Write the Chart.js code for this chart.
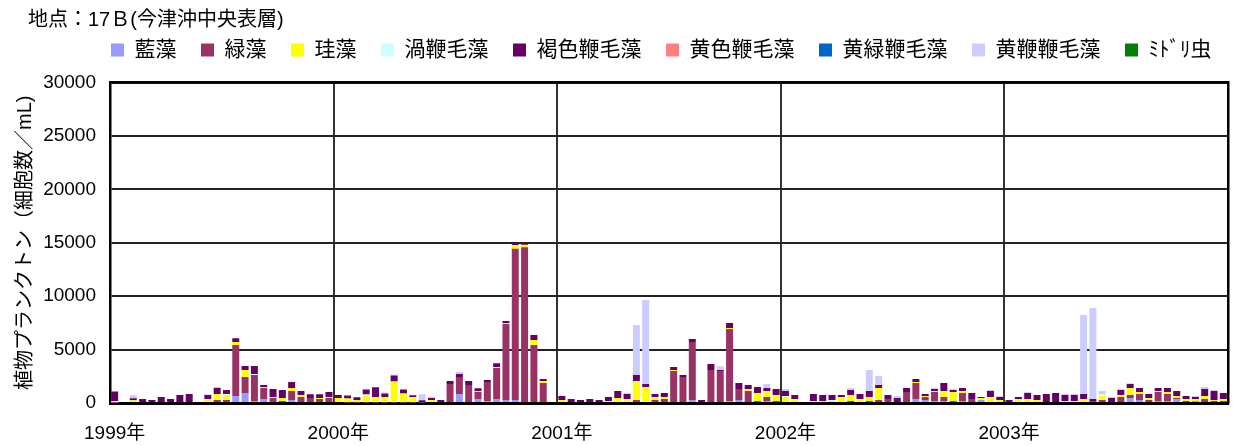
<!DOCTYPE html>
<html>
<head>
<meta charset="utf-8">
<script src="https://cdn.jsdelivr.net/npm/chart.js@4.4.1/dist/chart.umd.min.js"></script>
<style>
  html, body { margin: 0; padding: 0; background: #fff; }
  #wrap { width: 1236px; height: 446px; position: relative; }
</style>
</head>
<body>
<div id="wrap"><canvas id="c"></canvas></div>
<script>
// 今津沖中央表層（地点17B）植物プランクトン細胞数、半月ごとの調査
const years = ['1999年', '2000年', '2001年', '2002年', '2003年'];
const slotsPerYear = 24;
const yTickStep = 5000;
const yMax = 30000;
const N = null; // 欠測

// 藍藻
const ranso = [
  0, N, 0, 0, 0, 0, 0, 0, 0, N, 0, 0, 0, 650, 940, 190, 370, 90, 90, 280, 90, 90, 0, 0,
  0, 0, 0, 0, 0, 0, 0, 0, 0, 0, 0, 0, 90, 840, 90, 370, 190, 370, 280, 280, 90, 90, 0, N,
  0, 0, 0, 0, 0, 0, 0, 0, 0, 0, 0, 0, 0, 90, 280, 0, 0, 90, 190, 280, 90, 90, 190, 0,
  0, 0, N, 0, 0, 0, 0, 0, 0, 0, 0, 0, 0, 90, 370, 280, 190, 190, 90, 190, 90, 280, 0, 0,
  0, 0, 0, 0, 0, 0, 0, 0, 0, 0, 0, 0, 0, 470, 280, 90, 190, 190, 370, 0, 190, 0, 0, 0
];
// 緑藻
const ryokuso = [
  30, N, 0, 0, 0, 0, 0, 0, 0, N, 90, 280, 280, 4770, 1500, 2430, 1030, 370, 90, 840, 470, 370, 370, 470,
  90, 60, 60, 60, 60, 60, 60, 60, 60, 0, 90, 90, 1680, 1590, 1590, 650, 1780, 2900, 7110, 14150, 14500, 5340, 1870, N,
  90, 90, 0, 0, 0, 0, 0, 0, 280, 90, 280, 370, 3000, 2340, 5430, 0, 3090, 2900, 6740, 1030, 1030, 90, 370, 190,
  90, 90, N, 0, 90, 0, 0, 190, 0, 190, 280, 370, 90, 940, 1500, 280, 840, 370, 90, 750, 280, 0, 90, 0,
  0, 0, 90, 0, 0, 0, 0, 0, 90, 190, 280, 0, 560, 280, 560, 190, 840, 650, 90, 190, 0, 370, 190, 190
];
// 珪藻
const keiso = [
  150, N, 250, 0, 0, 0, 0, 0, 0, N, 280, 560, 470, 280, 650, 0, 90, 90, 280, 280, 190, 0, 90, 90,
  370, 370, 190, 650, 470, 470, 1960, 840, 470, 0, 190, 0, 0, 0, 0, 90, 0, 0, 90, 370, 190, 470, 190, N,
  190, 0, 0, 0, 90, 190, 470, 370, 1780, 1400, 280, 190, 90, 0, 0, 90, 0, 0, 90, 0, 190, 750, 560, 560,
  470, 280, N, 190, 90, 190, 560, 560, 370, 370, 1120, 0, 0, 0, 90, 90, 90, 560, 840, 190, 0, 190, 470, 280,
  90, 370, 280, 280, 90, 0, 190, 190, 280, 0, 370, 90, 190, 650, 190, 190, 90, 190, 190, 190, 190, 280, 90, 190
];
// 渦鞭毛藻
const uzuben = [
  0, N, 0, 0, 0, 0, 0, 0, 0, N, 0, 0, 90, 0, 0, 90, 0, 0, 0, 0, 0, 0, 0, 0,
  0, 0, 0, 90, 0, 0, 0, 0, 0, 60, 0, 0, 0, 0, 0, 0, 0, 90, 0, 0, 0, 0, 0, N,
  0, 0, 0, 0, 0, 0, 0, 0, 0, 0, 0, 0, 0, 0, 0, 0, 0, 0, 0, 0, 0, 0, 0, 0,
  90, 0, N, 0, 0, 90, 0, 0, 0, 0, 0, 0, 0, 0, 0, 0, 0, 0, 0, 0, 0, 0, 0, 0,
  0, 0, 0, 0, 0, 0, 0, 0, 0, 0, 190, 0, 0, 0, 0, 0, 0, 0, 0, 0, 0, 0, 0, 0
];
// 褐色鞭毛藻
const kasshoku = [
  900, N, 190, 370, 280, 560, 370, 750, 840, N, 370, 560, 370, 370, 370, 750, 190, 750, 750, 560, 370, 370, 370, 470,
  280, 280, 280, 470, 940, 370, 560, 370, 190, 190, 190, 190, 280, 280, 370, 280, 190, 370, 190, 190, 90, 470, 190, N,
  370, 280, 280, 370, 190, 370, 650, 470, 560, 280, 280, 370, 280, 190, 280, 190, 560, 90, 470, 560, 370, 560, 280, 560,
  470, 370, N, 650, 560, 470, 190, 470, 470, 560, 280, 370, 370, 370, 280, 190, 190, 750, 190, 280, 560, 90, 560, 280,
  190, 190, 560, 470, 750, 940, 560, 560, 470, 190, 0, 370, 470, 370, 370, 370, 280, 370, 470, 280, 190, 650, 840, 560
];
// 黄色鞭毛藻
const oshoku = [
  0, N, 0, 0, 0, 0, 0, 0, 0, N, 0, 0, 0, 0, 0, 0, 0, 0, 0, 0, 0, 0, 0, 0,
  0, 0, 0, 0, 0, 0, 0, 0, 0, 0, 0, 0, 0, 0, 0, 0, 0, 0, 0, 0, 0, 0, 0, N,
  0, 0, 0, 0, 0, 0, 0, 0, 0, 0, 0, 0, 0, 0, 0, 0, 0, 0, 0, 0, 0, 0, 0, 0,
  0, 0, N, 0, 0, 0, 0, 0, 0, 0, 0, 0, 0, 0, 0, 0, 0, 0, 0, 0, 0, 0, 0, 0,
  0, 0, 0, 0, 0, 0, 0, 0, 0, 0, 0, 0, 0, 0, 0, 0, 0, 0, 0, 0, 0, 0, 0, 0
];
// 黄緑鞭毛藻
const oryoku = [
  0, N, 0, 0, 0, 0, 0, 0, 0, N, 0, 0, 0, 0, 0, 0, 0, 0, 0, 0, 0, 0, 0, 0,
  0, 0, 0, 0, 0, 0, 0, 0, 0, 0, 0, 0, 0, 0, 0, 0, 0, 0, 0, 0, 0, 0, 0, N,
  0, 0, 0, 0, 0, 0, 0, 0, 0, 0, 0, 0, 0, 0, 0, 0, 0, 0, 0, 0, 0, 0, 0, 0,
  0, 0, N, 0, 0, 0, 0, 0, 0, 0, 0, 0, 0, 0, 0, 0, 0, 0, 0, 0, 0, 0, 0, 0,
  0, 0, 0, 0, 0, 0, 0, 0, 0, 0, 0, 0, 0, 0, 0, 0, 0, 0, 0, 0, 0, 0, 0, 0
];
// 黄鞭鞭毛藻
const obenben = [
  0, N, 280, 0, 0, 0, 0, 0, 0, N, 90, 90, 0, 0, 0, 0, 0, 0, 0, 0, 0, 0, 0, 0,
  0, 0, 0, 0, 0, 90, 90, 0, 0, 560, 90, 0, 0, 190, 0, 0, 0, 0, 0, 0, 0, 0, 0, N,
  0, 0, 0, 0, 0, 0, 0, 90, 4680, 7860, 0, 0, 0, 0, 0, 0, 0, 370, 0, 0, 0, 0, 370, 0,
  190, 0, N, 0, 0, 0, 0, 190, 0, 1970, 840, 0, 190, 0, 0, 0, 90, 0, 90, 0, 0, 0, 90, 90,
  0, 0, 90, 0, 0, 0, 90, 90, 7400, 8520, 280, 90, 90, 90, 0, 0, 0, 0, 0, 0, 90, 190, 90, 0
];
// ミドリ虫
const midorimushi = [
  0, N, 0, 0, 0, 0, 0, 0, 0, N, 0, 0, 0, 0, 0, 0, 0, 0, 0, 0, 0, 0, 0, 0,
  0, 0, 0, 0, 0, 0, 0, 0, 0, 0, 0, 0, 0, 0, 0, 0, 0, 0, 0, 0, 0, 0, 0, N,
  0, 0, 0, 0, 0, 0, 0, 0, 0, 0, 0, 0, 0, 0, 0, 0, 0, 0, 0, 0, 0, 0, 0, 0,
  0, 0, N, 0, 0, 0, 0, 0, 0, 0, 0, 0, 0, 0, 0, 0, 0, 0, 0, 0, 0, 0, 0, 0,
  0, 0, 0, 0, 0, 0, 0, 0, 0, 0, 0, 0, 0, 0, 0, 0, 0, 0, 0, 0, 0, 0, 0, 0
];

// 月の前半・後半で1年24区分のカテゴリ
const categories = [];
years.forEach(y => {
  for (let m = 1; m <= 12; m++) {
    categories.push(y + m + '月前半');
    categories.push(y + m + '月後半');
  }
});

const seriesNames = ['藍藻', '緑藻', '珪藻', '渦鞭毛藻', '褐色鞭毛藻', '黄色鞭毛藻', '黄緑鞭毛藻', '黄鞭鞭毛藻', 'ﾐﾄﾞﾘ虫'];
const seriesValues = [ranso, ryokuso, keiso, uzuben, kasshoku, oshoku, oryoku, obenben, midorimushi];
const seriesColors = ['#9999FF', '#993366', '#FFFF00', '#CCFFFF', '#660066', '#FF8080', '#0066CC', '#CCCCFF', '#008000'];

const FONT = "'Liberation Sans', 'Noto Sans CJK JP', sans-serif";

new Chart(document.getElementById('c'), {
  type: 'bar',
  data: {
    labels: categories,
    datasets: seriesNames.map((name, i) => ({
      label: name,
      data: seriesValues[i],
      backgroundColor: seriesColors[i],
      borderWidth: 0,
      categoryPercentage: 1.0,
      barPercentage: 0.75
    }))
  },
  options: {
    responsive: true,
    maintainAspectRatio: false,
    animation: false,
    events: [],
    layout: { padding: { left: 28, right: 0, top: 0, bottom: 0 } },
    plugins: {
      title: {
        display: true,
        text: '地点：17Ｂ(今津沖中央表層)',
        align: 'start',
        color: '#000',
        font: { family: FONT, size: 20, weight: 'normal' },
        padding: { top: 8, bottom: -17 }
      },
      legend: {
        display: true,
        position: 'top',
        align: 'end',
        labels: {
          color: '#000',
          font: { family: FONT, size: 21 },
          boxWidth: 13,
          boxHeight: 13,
          padding: 24.5
        }
      },
      tooltip: { enabled: false }
    },
    scales: {
      x: {
        type: 'category',
        stacked: true,
        z: 1,
        afterFit: s => { s.height = 43; },
        grid: {
          offset: true,
          drawTicks: false,
          lineWidth: 2,
          color: ctx => (ctx.index % slotsPerYear === 0 && ctx.index > 0) ? '#333' : 'rgba(0,0,0,0)'
        },
        border: { display: true, color: '#000', width: 3 },
        ticks: {
          autoSkip: false,
          maxRotation: 0,
          minRotation: 0,
          padding: 12,
          color: '#000',
          font: { family: FONT, size: 19, lineHeight: 2 },
          callback: (v, i) => (i % slotsPerYear === 0) ? years[i / slotsPerYear] : ''
        }
      },
      xTop: {
        type: 'category',
        position: 'top',
        display: true,
        grid: { display: false, drawTicks: false },
        border: { display: true, color: '#000', width: 2.5 },
        ticks: { display: false },
        afterFit: s => { s.height = 12; }
      },
      y: {
        stacked: true,
        min: 0,
        max: yMax,
        afterFit: s => { s.width = 82; },
        grid: { drawTicks: false, color: '#222', lineWidth: 2 },
        border: { display: true, color: '#000', width: 2.5 },
        ticks: {
          stepSize: yTickStep,
          padding: 14,
          color: '#000',
          font: { family: FONT, size: 19 },
          callback: v => String(v)
        },
        title: {
          display: true,
          text: '植物プランクトン（細胞数／mL)',
          color: '#000',
          font: { family: FONT, size: 20 },
          padding: { top: -15, bottom: 0 }
        }
      },
      yRight: {
        type: 'linear',
        position: 'right',
        display: true,
        grid: { display: false, drawTicks: false },
        border: { display: true, color: '#000', width: 2.5 },
        ticks: { display: false },
        afterFit: s => { s.width = 8; }
      }
    }
  }
});
</script>
</body>
</html>
